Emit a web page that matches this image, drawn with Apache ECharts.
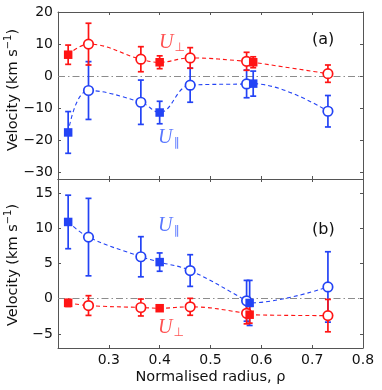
<!DOCTYPE html>
<html><head><meta charset="utf-8">
<script src="https://cdn.jsdelivr.net/npm/echarts@6/dist/echarts.min.js"></script>
<style>html,body{margin:0;padding:0;background:#fff}#c{width:382px;height:390px}</style>
</head><body><div id="c"></div>
<script>
// ---- tick labels ----
const xTicks = [0.3, 0.4, 0.5, 0.6, 0.7, 0.8];
const yTicksA = [-30, -20, -10, 0, 10, 20];
const yTicksB = [-5, 0, 5, 10, 15];

// ---- panel (a) ----
const rhoOpenA = [0.26, 0.363, 0.46, 0.571, 0.731];
const rhoFilledA = [0.22, 0.40, 0.584];
const perpOpenA = [10.0, 5.3, 5.7, 4.65, 0.8];
const perpOpenErrA = [6.5, 3.9, 3.2, 2.8, 2.7];
const perpFilledA = [6.7, 4.35, 4.35];
const perpFilledErrA = [3.0, 2.0, 1.7];
const parOpenA = [-4.45, -8.1, -2.8, -2.4, -10.9];
const parOpenErrA = [9.0, 6.9, 5.3, 4.3, 4.9];
const parFilledA = [-17.5, -11.3, -2.3];
const parFilledErrA = [6.5, 3.5, 3.9];

// ---- panel (b) ----
const rhoOpenB = [0.26, 0.363, 0.46, 0.571, 0.731];
const rhoFilledB = [0.22, 0.40, 0.577];
const parOpenB = [8.75, 5.96, 4.0, -0.3, 1.67];
const parOpenErrB = [5.5, 2.85, 2.25, 2.9, 5.0];
const parFilledB = [10.9, 5.2, -0.6];
const parFilledErrB = [3.8, 1.3, 3.2];
const perpOpenB = [-0.97, -1.25, -1.15, -2.07, -2.4];
const perpOpenErrB = [1.4, 1.2, 1.2, 1.5, 2.3];
const perpFilledB = [-0.6, -1.35, -2.27];
const perpFilledErrB = [0.5, 0.4, 1.2];

const RED = '#ff1414';
const BLUE = '#2343f5';
const FRAME = '#555';
const FONT = 'DejaVu Sans';

const fmt = v => String(v).replace('-', '\u2212');

function zip(r, v, e) { return r.map((x, i) => e ? [x, v[i], e[i]] : [x, v[i]]); }

function lineSeries(gi, rO, vO, rF, vF, color, withZero) {
  const pts = zip(rO, vO).concat(zip(rF, vF)).sort((a, b) => a[0] - b[0]);
  const s = {
    type: 'line', xAxisIndex: gi, yAxisIndex: gi, data: pts, smooth: 0.4,
    showSymbol: false, symbol: 'none', silent: true, z: 2,
    lineStyle: { color: color, width: 1.1, type: [4, 3] }
  };
  if (withZero) {
    s.markLine = {
      silent: true, symbol: 'none', label: { show: false }, z: 1,
      lineStyle: { color: '#8c8c8c', width: 1, type: [7, 3, 1.5, 3] },
      data: [{ yAxis: 0 }]
    };
  }
  return s;
}

function errSeries(gi, r, v, e, color) {
  return {
    type: 'custom', xAxisIndex: gi, yAxisIndex: gi, data: zip(r, v, e), z: 3, silent: true,
    encode: { x: 0, y: 1 },
    renderItem: function (params, api) {
      const x = api.value(0), y = api.value(1), er = api.value(2);
      const t = api.coord([x, y + er]);
      const b = api.coord([x, y - er]);
      const w = 3, st = { stroke: color, lineWidth: 1.7 };
      return {
        type: 'group', children: [
          { type: 'line', shape: { x1: t[0], y1: t[1], x2: b[0], y2: b[1] }, style: st },
          { type: 'line', shape: { x1: t[0] - w, y1: t[1], x2: t[0] + w, y2: t[1] }, style: st },
          { type: 'line', shape: { x1: b[0] - w, y1: b[1], x2: b[0] + w, y2: b[1] }, style: st }
        ]
      };
    }
  };
}

function openSeries(gi, r, v, color) {
  return {
    type: 'scatter', xAxisIndex: gi, yAxisIndex: gi, data: zip(r, v), symbol: 'circle', symbolSize: 9.5, z: 5,
    itemStyle: { color: '#fff', borderColor: color, borderWidth: 1.7, opacity: 1 }
  };
}
function filledSeries(gi, r, v, color) {
  return {
    type: 'scatter', xAxisIndex: gi, yAxisIndex: gi, data: zip(r, v), symbol: 'rect', symbolSize: 8.5, z: 5,
    itemStyle: { color: color, opacity: 1 }
  };
}

function xAx(gi, pos, labels) {
  const a = {
    type: 'value', gridIndex: gi, position: pos, min: 0.2, max: 0.8,
    axisLine: { show: true, onZero: false, lineStyle: { color: FRAME, width: 1 } },
    axisTick: { show: true, inside: true, length: 3, customValues: xTicks, lineStyle: { color: FRAME } },
    axisLabel: { show: labels, customValues: xTicks, formatter: v => v.toFixed(1), fontFamily: FONT, fontSize: 14, color: '#111', margin: 5 },
    splitLine: { show: false }
  };
  if (labels) {
    a.name = 'Normalised radius, \u03c1';
    a.nameLocation = 'middle';
    a.nameGap = 22;
    a.nameMoveOverlap = false;
    a.nameTextStyle = { fontFamily: FONT, fontSize: 14.5, color: '#111' };
  }
  return a;
}
function yAx(gi, pos, min, max, ticks, labels) {
  return {
    type: 'value', gridIndex: gi, position: pos, min: min, max: max,
    axisLine: { show: true, onZero: false, lineStyle: { color: FRAME, width: 1 } },
    axisTick: { show: true, inside: true, length: 3, customValues: ticks, lineStyle: { color: FRAME } },
    axisLabel: { show: labels, customValues: ticks, formatter: fmt, fontFamily: FONT, fontSize: 14, color: '#111', margin: 5 },
    splitLine: { show: false }
  };
}

function yName(cx, cy) {
  return {
    type: 'text', x: cx, y: cy, rotation: Math.PI / 2, z: 10, silent: true,
    style: {
      text: '{t|Velocity (km s}{p|\u22121}{t|)}', fill: '#111', align: 'center', verticalAlign: 'middle',
      rich: {
        t: { fontFamily: FONT, fontSize: 14.5, fill: '#111', lineHeight: 20 },
        p: { fontFamily: FONT, fontSize: 10, fill: '#111', verticalAlign: 'top', lineHeight: 20 }
      }
    }
  };
}

function uLabel(x, y, sub, color) {
  return {
    type: 'text', x: x, y: y, z: 10, silent: true,
    style: {
      text: '{u|U}{s|' + sub + '}', fill: color, verticalAlign: 'middle',
      rich: {
        u: { fontFamily: 'Liberation Serif', fontStyle: 'italic', fontSize: 20, fill: color, lineHeight: 22 },
        s: { fontFamily: FONT, fontSize: 12, fill: color, verticalAlign: 'bottom', lineHeight: 22, padding: [0, 0, 0, 1] }
      }
    }
  };
}
function panelLabel(x, y, t) {
  return { type: 'text', x: x, y: y, z: 10, silent: true,
    style: { text: t, fill: '#111', font: '16px "DejaVu Sans"', verticalAlign: 'middle' } };
}

const chart = echarts.init(document.getElementById('c'), null, { renderer: 'canvas' });
chart.setOption({
  animation: false,
  backgroundColor: '#fff',
  grid: [
    { left: 58, right: 19, top: 12, height: 167, containLabel: false, outerBoundsMode: 'none' },
    { left: 58, right: 19, top: 179, height: 169, containLabel: false, outerBoundsMode: 'none' }
  ],
  xAxis: [xAx(0, 'bottom', false), xAx(1, 'bottom', true), xAx(0, 'top', false), xAx(1, 'top', false)],
  yAxis: [yAx(0, 'left', -32, 20, yTicksA, true), yAx(1, 'left', -7, 17, yTicksB, true),
          yAx(0, 'right', -32, 20, yTicksA, false), yAx(1, 'right', -7, 17, yTicksB, false)],
  series: [
    lineSeries(0, rhoOpenA, perpOpenA, rhoFilledA, perpFilledA, RED, true),
    lineSeries(0, rhoOpenA, parOpenA, rhoFilledA, parFilledA, BLUE, false),
    errSeries(0, rhoOpenA, parOpenA, parOpenErrA, BLUE),
    errSeries(0, rhoFilledA, parFilledA, parFilledErrA, BLUE),
    errSeries(0, rhoOpenA, perpOpenA, perpOpenErrA, RED),
    errSeries(0, rhoFilledA, perpFilledA, perpFilledErrA, RED),
    openSeries(0, rhoOpenA, parOpenA, BLUE),
    filledSeries(0, rhoFilledA, parFilledA, BLUE),
    openSeries(0, rhoOpenA, perpOpenA, RED),
    filledSeries(0, rhoFilledA, perpFilledA, RED),

    lineSeries(1, rhoOpenB, parOpenB, rhoFilledB, parFilledB, BLUE, true),
    lineSeries(1, rhoOpenB, perpOpenB, rhoFilledB, perpFilledB, RED, false),
    errSeries(1, rhoOpenB, parOpenB, parOpenErrB, BLUE),
    errSeries(1, rhoFilledB, parFilledB, parFilledErrB, BLUE),
    errSeries(1, rhoOpenB, perpOpenB, perpOpenErrB, RED),
    errSeries(1, rhoFilledB, perpFilledB, perpFilledErrB, RED),
    openSeries(1, rhoOpenB, parOpenB, BLUE),
    filledSeries(1, rhoFilledB, parFilledB, BLUE),
    openSeries(1, rhoOpenB, perpOpenB, RED),
    filledSeries(1, rhoFilledB, perpFilledB, RED)
  ],
  graphic: [
    yName(13, 90),
    yName(13, 265),
    uLabel(159, 43, '\u22a5', '#ff5252'),
    uLabel(158, 138, '\u2225', '#5a78ff'),
    uLabel(158, 226, '\u2225', '#5a78ff'),
    uLabel(158, 328, '\u22a5', '#ff5252'),
    panelLabel(312, 40, '(a)'),
    panelLabel(312, 230, '(b)')
  ]
});
</script></body></html>
